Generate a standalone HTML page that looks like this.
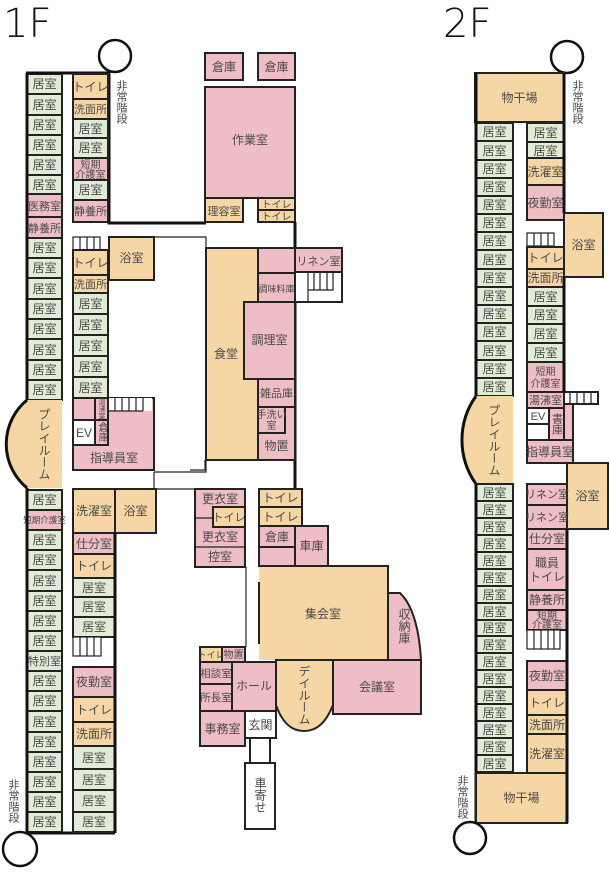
<!DOCTYPE html>
<html><head><meta charset="utf-8"><style>
html,body{margin:0;padding:0;background:#fff}
svg{display:block}
rect,path.r{stroke:#222;stroke-width:2}
.g{fill:#e2ebd5}.o{fill:#f5d6a4}.p{fill:#efbdc4}.w{fill:#fff}
text{font-family:"Liberation Sans","Noto Sans CJK JP",sans-serif;font-size:12px;fill:#4a4a4a;text-anchor:middle}
.s{font-size:10px}.xs{font-size:8.5px}
.v{writing-mode:vertical-rl}
.t{font-size:40px;fill:#111;text-anchor:start;font-family:"DejaVu Sans","Liberation Sans",sans-serif;font-weight:200}
line,.ln{stroke:#222;stroke-width:1.2;fill:none}
.th{stroke:#111;stroke-width:3;fill:none}
</style></head><body>
<svg width="610" height="876" viewBox="0 0 610 876" xmlns="http://www.w3.org/2000/svg">
<text class="t" x="3" y="37">1F</text>
<text class="t" x="443" y="37">2F</text>

<!-- ===== 1F left column ===== -->
<circle cx="115" cy="56" r="16" fill="#fff" stroke="#111" stroke-width="2.5"/>
<text class="v" x="121" y="102" style="font-size:11px">非常階段</text>
<rect class="g" x="27" y="74" width="35" height="20"/><text x="44.5" y="88">居室</text>
<rect class="g" x="27" y="94" width="35" height="21"/><text x="44.5" y="109">居室</text>
<rect class="g" x="27" y="115" width="35" height="20"/><text x="44.5" y="129">居室</text>
<rect class="g" x="27" y="135" width="35" height="20"/><text x="44.5" y="149">居室</text>
<rect class="g" x="27" y="155" width="35" height="20"/><text x="44.5" y="169">居室</text>
<rect class="g" x="27" y="175" width="35" height="19"/><text x="44.5" y="189">居室</text>
<rect class="p" x="27" y="194" width="35" height="23"/><text x="44.5" y="210" style="font-size:11px">医務室</text>
<rect class="p" x="27" y="217" width="35" height="21"/><text x="44.5" y="232" style="font-size:11px">静養所</text>
<rect class="g" x="27" y="238" width="35" height="20"/><text x="44.5" y="252">居室</text>
<rect class="g" x="27" y="258" width="35" height="20"/><text x="44.5" y="272">居室</text>
<rect class="g" x="27" y="278" width="35" height="21"/><text x="44.5" y="293">居室</text>
<rect class="g" x="27" y="299" width="35" height="20"/><text x="44.5" y="313">居室</text>
<rect class="g" x="27" y="319" width="35" height="20"/><text x="44.5" y="333">居室</text>
<rect class="g" x="27" y="339" width="35" height="21"/><text x="44.5" y="354">居室</text>
<rect class="g" x="27" y="360" width="35" height="20"/><text x="44.5" y="374">居室</text>
<rect class="g" x="27" y="380" width="35" height="20"/><text x="44.5" y="394">居室</text>
<path class="o" d="M27,400 A57,57 0 0 0 27,488 L62,488 L62,400 Z"/>
<path class="th" d="M27,400 A57,57 0 0 0 27,488"/>
<text class="v" x="44" y="444">プレイルーム</text>
<rect class="g" x="27" y="490" width="35" height="20"/><text x="44.5" y="504">居室</text>
<rect class="p" x="27" y="510" width="35" height="20"/><text class="xs" x="44.5" y="523">短期介護室</text>
<rect class="g" x="27" y="530" width="35" height="20"/><text x="44.5" y="544">居室</text>
<rect class="g" x="27" y="550" width="35" height="20"/><text x="44.5" y="564">居室</text>
<rect class="g" x="27" y="570" width="35" height="21"/><text x="44.5" y="585">居室</text>
<rect class="g" x="27" y="591" width="35" height="20"/><text x="44.5" y="605">居室</text>
<rect class="g" x="27" y="611" width="35" height="20"/><text x="44.5" y="625">居室</text>
<rect class="g" x="27" y="631" width="35" height="20"/><text x="44.5" y="645">居室</text>
<rect class="g" x="27" y="651" width="35" height="20"/><text x="44.5" y="665" style="font-size:11px">特別室</text>
<rect class="g" x="27" y="671" width="35" height="20"/><text x="44.5" y="685">居室</text>
<rect class="g" x="27" y="691" width="35" height="20"/><text x="44.5" y="705">居室</text>
<rect class="g" x="27" y="711" width="35" height="21"/><text x="44.5" y="726">居室</text>
<rect class="g" x="27" y="732" width="35" height="20"/><text x="44.5" y="746">居室</text>
<rect class="g" x="27" y="752" width="35" height="20"/><text x="44.5" y="766">居室</text>
<rect class="g" x="27" y="772" width="35" height="20"/><text x="44.5" y="786">居室</text>
<rect class="g" x="27" y="792" width="35" height="20"/><text x="44.5" y="806">居室</text>
<rect class="g" x="27" y="812" width="35" height="20"/><text x="44.5" y="826">居室</text>
<circle cx="20" cy="849" r="17" fill="#fff" stroke="#111" stroke-width="2.5"/>
<text class="v" x="13" y="801" style="font-size:11px">非常階段</text>
<path class="th" d="M27,73 V400 M27,488 V833 H115 M26,73 H109 V223 H206"/>

<!-- 1F inner top column -->
<rect class="o" x="73" y="74" width="35" height="25"/><text x="90.5" y="91">トイレ</text>
<rect class="o" x="73" y="99" width="35" height="20"/><text x="90.5" y="113" style="font-size:11px">洗面所</text>
<rect class="g" x="73" y="119" width="35" height="19"/><text x="90.5" y="133">居室</text>
<rect class="g" x="73" y="138" width="35" height="20"/><text x="90.5" y="152">居室</text>
<rect class="p" x="73" y="158" width="35" height="22"/><text class="s" x="90.5" y="168">短期</text><text class="s" x="90.5" y="178">介護室</text>
<rect class="g" x="73" y="180" width="35" height="20"/><text x="90.5" y="194">居室</text>
<rect class="p" x="73" y="200" width="35" height="22"/><text x="90.5" y="215" style="font-size:11px">静養所</text>

<!-- 1F middle -->
<path class="ln" d="M108,237 H206 V472 H154"/>
<rect class="w" x="73" y="237" width="27" height="13" style="stroke-width:1.2"/>
<line x1="80" y1="237" x2="80" y2="250"/><line x1="87" y1="237" x2="87" y2="250"/><line x1="94" y1="237" x2="94" y2="250"/>
<rect class="o" x="109" y="237" width="45" height="43"/><text x="131.5" y="262">浴室</text>
<rect class="o" x="73" y="250" width="35" height="25"/><text x="90.5" y="267">トイレ</text>
<rect class="o" x="73" y="275" width="35" height="18"/><text x="90.5" y="288" style="font-size:11px">洗面所</text>
<rect class="g" x="73" y="293" width="35" height="21"/><text x="90.5" y="308">居室</text>
<rect class="g" x="73" y="314" width="35" height="21"/><text x="90.5" y="329">居室</text>
<rect class="g" x="73" y="335" width="35" height="21"/><text x="90.5" y="350">居室</text>
<rect class="g" x="73" y="356" width="35" height="21"/><text x="90.5" y="371">居室</text>
<rect class="g" x="73" y="377" width="35" height="21"/><text x="90.5" y="392">居室</text>
<rect class="p" x="73" y="398" width="81" height="72"/>
<rect class="w" x="108" y="398" width="44" height="13" style="stroke:none"/>
<line x1="108" y1="411" x2="143" y2="411"/>
<line x1="115" y1="398" x2="115" y2="411"/><line x1="122" y1="398" x2="122" y2="411"/><line x1="129" y1="398" x2="129" y2="411"/><line x1="136" y1="398" x2="136" y2="411"/><line x1="143" y1="398" x2="143" y2="411"/>
<rect class="p" x="73" y="398" width="22" height="22"/>
<rect class="p" x="95" y="398" width="13" height="22"/><text class="v" x="101.5" y="409" style="font-size:7px">湯沸室</text>
<rect class="w" x="73" y="420" width="22" height="25"/><text x="84" y="437">EV</text>
<rect class="p" x="95" y="420" width="13" height="25"/><text class="v" x="101.5" y="432" style="font-size:10px">倉庫</text>
<text x="114" y="462">指導員室</text>

<!-- 1F center top -->
<rect class="p" x="205" y="53" width="38" height="27"/><text x="224" y="71">倉庫</text>
<rect class="p" x="258" y="53" width="37" height="27"/><text x="276.5" y="71">倉庫</text>
<rect class="p" x="205" y="87" width="90" height="111"/><text x="250" y="144">作業室</text>
<rect class="o" x="205" y="198" width="38" height="24"/><text x="224" y="215" style="font-size:11px">理容室</text>
<rect class="o" x="258" y="198" width="37" height="12"/><text x="276.5" y="208" style="font-size:10px">トイレ</text>
<rect class="o" x="258" y="210" width="37" height="12"/><text x="276.5" y="220" style="font-size:10px">トイレ</text>
<path class="th" d="M295,222 V248 M295,302 V489"/>
<rect class="o" x="206" y="248" width="52" height="212"/><text x="226" y="358">食堂</text>
<rect class="p" x="258" y="248" width="37" height="25"/>
<rect class="p" x="295" y="248" width="47" height="24"/><text x="318.5" y="265" style="font-size:11px">リネン室</text>
<rect class="w" x="295" y="272" width="47" height="30"/>
<path class="ln" d="M308,272 V302 M308,290 H333 V272 M314,272 V290 M320,272 V290 M327,272 V290"/>
<rect class="p" x="258" y="273" width="37" height="29"/><text x="276.5" y="292" style="font-size:9px">調味料庫</text>
<rect class="p" x="244" y="302" width="51" height="77"/><text x="269.5" y="344">調理室</text>
<rect class="p" x="258" y="379" width="37" height="28"/><text x="276.5" y="397" style="font-size:11px">雑品庫</text>
<rect class="p" x="258" y="407" width="37" height="53"/>
<rect class="p" x="258" y="407" width="27" height="26"/><text x="271.5" y="418" style="font-size:10px">手洗い</text><text x="271.5" y="429" style="font-size:10px">室</text>
<text x="276.5" y="450">物置</text>

<!-- 1F lower middle -->
<path class="ln" d="M154,472 V489 M156,489 H195 M190,470 H205 V460"/>
<rect class="o" x="73" y="489" width="42" height="44"/><text x="94" y="515">洗濯室</text>
<rect class="o" x="115" y="489" width="41" height="44"/><text x="135.5" y="515">浴室</text>
<rect class="p" x="73" y="533" width="42" height="21"/><text x="94" y="548">仕分室</text>
<rect class="o" x="73" y="554" width="42" height="24"/><text x="94" y="570">トイレ</text>
<rect class="g" x="73" y="578" width="42" height="19"/><text x="94" y="592">居室</text>
<rect class="g" x="73" y="597" width="42" height="20"/><text x="94" y="611">居室</text>
<rect class="g" x="73" y="617" width="42" height="20"/><text x="94" y="631">居室</text>
<rect class="w" x="73" y="637" width="28" height="19" style="stroke-width:1.2"/>
<line x1="80" y1="637" x2="80" y2="656"/><line x1="87" y1="637" x2="87" y2="656"/><line x1="94" y1="637" x2="94" y2="656"/>
<rect class="p" x="73" y="667" width="42" height="30"/><text x="94" y="686">夜勤室</text>
<rect class="o" x="73" y="697" width="42" height="25"/><text x="94" y="714">トイレ</text>
<rect class="o" x="73" y="722" width="42" height="24"/><text x="94" y="738">洗面所</text>
<rect class="g" x="73" y="746" width="42" height="23"/><text x="94" y="762">居室</text>
<rect class="g" x="73" y="769" width="42" height="21"/><text x="94" y="784">居室</text>
<rect class="g" x="73" y="790" width="42" height="22"/><text x="94" y="805">居室</text>
<rect class="g" x="73" y="812" width="42" height="20"/><text x="94" y="826">居室</text>
<path class="th" d="M115,533 V833"/>

<!-- 1F lower right -->
<rect class="p" x="195" y="489" width="50" height="78"/>
<line x1="195" y1="518" x2="213" y2="518"/><line x1="195" y1="547" x2="245" y2="547"/>
<text x="220" y="503">更衣室</text>
<rect class="o" x="213" y="507" width="32" height="20"/><text x="229" y="521" style="font-size:11px">トイレ</text>
<text x="220" y="541">更衣室</text>
<text x="220" y="561">控室</text>
<line x1="246" y1="567" x2="246" y2="647"/>
<rect class="o" x="259" y="489" width="43" height="18"/><text x="280.5" y="502">トイレ</text>
<rect class="o" x="259" y="507" width="43" height="19"/><text x="280.5" y="521">トイレ</text>
<rect class="p" x="259" y="526" width="36" height="21"/><text x="277" y="541">倉庫</text>
<rect class="p" x="259" y="547" width="36" height="19"/>
<rect class="p" x="295" y="526" width="33" height="40"/><text x="311.5" y="550">車庫</text>
<rect class="o" x="259" y="566" width="129" height="94" style="stroke:none"/>
<path class="ln" style="stroke-width:2" d="M259,566 H388 V660"/>
<line x1="259" y1="582" x2="259" y2="644" style="stroke-width:2"/>
<text x="323" y="618">集会室</text>
<path class="r p" d="M388,593 L400,593 Q418,610 421,660 L388,660 Z"/>
<text class="v" x="404" y="626">収納庫</text>
<rect class="p" x="333" y="660" width="88" height="54"/><text x="377" y="691">会議室</text>
<path class="r o" d="M276,660 H333 V705 C325,725 315,731 304,731 C293,731 283,725 276,705 Z"/>
<text class="v" x="304" y="695">デイルーム</text>
<rect class="p" x="232" y="662" width="44" height="49"/><text x="254" y="690">ホール</text>
<rect class="o" x="200" y="647" width="22" height="15"/><text x="211" y="658" style="font-size:9px">トイレ</text>
<rect class="p" x="222" y="647" width="23" height="15"/><text x="233.5" y="658" style="font-size:10px">物置</text>
<rect class="p" x="200" y="662" width="32" height="22"/><text x="216" y="677" style="font-size:10.5px">相談室</text>
<rect class="p" x="200" y="684" width="32" height="27"/><text x="216" y="701" style="font-size:10.5px">所長室</text>
<rect class="p" x="200" y="711" width="45" height="35"/><text x="222.5" y="733">事務室</text>
<rect class="w" x="245" y="711" width="31" height="27"/><text x="260.5" y="729">玄関</text>
<path class="ln" style="stroke-width:2" d="M250,738 V763 M270,738 V763"/>
<rect class="w" x="245" y="763" width="30" height="66"/>
<text class="v" x="260" y="795">車寄せ</text>

<!-- ===== 2F ===== -->
<circle cx="567" cy="57" r="16" fill="#fff" stroke="#111" stroke-width="2.5"/>
<text class="v" x="577" y="102" style="font-size:11px">非常階段</text>
<rect class="o" x="475" y="73" width="89" height="49"/><text x="519.5" y="102">物干場</text>
<rect class="g" x="476" y="123" width="37" height="18"/><text x="494.5" y="136">居室</text>
<rect class="g" x="476" y="141" width="37" height="19"/><text x="494.5" y="155">居室</text>
<rect class="g" x="476" y="160" width="37" height="18"/><text x="494.5" y="173">居室</text>
<rect class="g" x="476" y="178" width="37" height="18"/><text x="494.5" y="191">居室</text>
<rect class="g" x="476" y="196" width="37" height="18"/><text x="494.5" y="209">居室</text>
<rect class="g" x="476" y="214" width="37" height="18"/><text x="494.5" y="227">居室</text>
<rect class="g" x="476" y="232" width="37" height="18"/><text x="494.5" y="245">居室</text>
<rect class="g" x="476" y="250" width="37" height="19"/><text x="494.5" y="264">居室</text>
<rect class="g" x="476" y="269" width="37" height="18"/><text x="494.5" y="282">居室</text>
<rect class="g" x="476" y="287" width="37" height="18"/><text x="494.5" y="300">居室</text>
<rect class="g" x="476" y="305" width="37" height="18"/><text x="494.5" y="318">居室</text>
<rect class="g" x="476" y="323" width="37" height="18"/><text x="494.5" y="336">居室</text>
<rect class="g" x="476" y="341" width="37" height="19"/><text x="494.5" y="355">居室</text>
<rect class="g" x="476" y="360" width="37" height="18"/><text x="494.5" y="373">居室</text>
<rect class="g" x="476" y="378" width="37" height="18"/><text x="494.5" y="391">居室</text>
<path class="o" d="M476,396 A76,76 0 0 0 476,484 L513,484 L513,396 Z"/>
<path class="th" d="M476,396 A76,76 0 0 0 476,484"/>
<text class="v" x="494" y="440">プレイルーム</text>
<rect class="g" x="476" y="484" width="37" height="17"/><text x="494.5" y="497">居室</text>
<rect class="g" x="476" y="501" width="37" height="17"/><text x="494.5" y="514">居室</text>
<rect class="g" x="476" y="518" width="37" height="17"/><text x="494.5" y="531">居室</text>
<rect class="g" x="476" y="535" width="37" height="17"/><text x="494.5" y="548">居室</text>
<rect class="g" x="476" y="552" width="37" height="17"/><text x="494.5" y="565">居室</text>
<rect class="g" x="476" y="569" width="37" height="17"/><text x="494.5" y="582">居室</text>
<rect class="g" x="476" y="586" width="37" height="17"/><text x="494.5" y="599">居室</text>
<rect class="g" x="476" y="603" width="37" height="17"/><text x="494.5" y="616">居室</text>
<rect class="g" x="476" y="620" width="37" height="16"/><text x="494.5" y="632">居室</text>
<rect class="g" x="476" y="636" width="37" height="17"/><text x="494.5" y="649">居室</text>
<rect class="g" x="476" y="653" width="37" height="17"/><text x="494.5" y="666">居室</text>
<rect class="g" x="476" y="670" width="37" height="17"/><text x="494.5" y="683">居室</text>
<rect class="g" x="476" y="687" width="37" height="17"/><text x="494.5" y="700">居室</text>
<rect class="g" x="476" y="704" width="37" height="17"/><text x="494.5" y="717">居室</text>
<rect class="g" x="476" y="721" width="37" height="17"/><text x="494.5" y="734">居室</text>
<rect class="g" x="476" y="738" width="37" height="17"/><text x="494.5" y="751">居室</text>
<rect class="g" x="476" y="755" width="37" height="17"/><text x="494.5" y="768">居室</text>
<path class="th" d="M476,73 V396 M476,484 V823"/>

<rect class="g" x="527" y="123" width="37" height="19"/><text x="545.5" y="137">居室</text>
<rect class="g" x="527" y="142" width="37" height="16"/><text x="545.5" y="155">居室</text>
<rect class="o" x="527" y="158" width="37" height="27"/><text x="545.5" y="176">洗濯室</text>
<rect class="p" x="527" y="185" width="37" height="35"/><text x="545.5" y="207">夜勤室</text>
<rect class="w" x="527" y="233" width="27" height="13" style="stroke-width:1.2"/>
<line x1="534" y1="233" x2="534" y2="246"/><line x1="541" y1="233" x2="541" y2="246"/><line x1="548" y1="233" x2="548" y2="246"/>
<rect class="o" x="564" y="213" width="39" height="64"/><text x="583.5" y="249">浴室</text>
<rect class="o" x="527" y="247" width="37" height="22"/><text x="545.5" y="262">トイレ</text>
<rect class="o" x="527" y="269" width="37" height="18"/><text x="545.5" y="282">洗面所</text>
<rect class="g" x="527" y="287" width="37" height="19"/><text x="545.5" y="301">居室</text>
<rect class="g" x="527" y="306" width="37" height="18"/><text x="545.5" y="319">居室</text>
<rect class="g" x="527" y="324" width="37" height="19"/><text x="545.5" y="338">居室</text>
<rect class="g" x="527" y="343" width="37" height="19"/><text x="545.5" y="357">居室</text>
<rect class="p" x="527" y="362" width="37" height="30"/><text class="s" x="545.5" y="375">短期</text><text class="s" x="545.5" y="387">介護室</text>
<rect class="p" x="527" y="392" width="37" height="16"/><text x="545.5" y="404" style="font-size:11px">湯沸室</text>
<rect class="p" x="564" y="392" width="9" height="48"/>
<rect class="w" x="564" y="392" width="34" height="12"/>
<line x1="570" y1="392" x2="570" y2="404"/><line x1="577" y1="392" x2="577" y2="404"/><line x1="584" y1="392" x2="584" y2="404"/><line x1="591" y1="392" x2="591" y2="404"/>
<rect class="w" x="527" y="408" width="22" height="16"/><text x="538" y="420" style="font-size:11px">EV</text>
<rect class="w" x="527" y="424" width="22" height="16"/>
<rect class="p" x="549" y="408" width="15" height="32"/><text class="v" x="556.5" y="424" style="font-size:11px">書庫</text>
<rect class="p" x="527" y="440" width="46" height="23"/><text x="550" y="456">指導員室</text>
<rect class="o" x="567" y="463" width="41" height="66"/><text x="587.5" y="500">浴室</text>
<rect class="p" x="527" y="484" width="40" height="21"/><text x="547" y="498" style="font-size:11px">リネン室</text>
<rect class="p" x="527" y="505" width="40" height="24"/><text x="547" y="521" style="font-size:11px">リネン室</text>
<rect class="p" x="527" y="529" width="40" height="20"/><text x="547" y="543">仕分室</text>
<rect class="p" x="527" y="549" width="40" height="41"/><text x="547" y="567">職員</text><text x="547" y="581">トイレ</text>
<rect class="p" x="527" y="590" width="40" height="20"/><text x="547" y="604">静養所</text>
<rect class="p" x="527" y="610" width="40" height="20"/><text class="s" x="547" y="619">短期</text><text class="s" x="547" y="628">介護室</text>
<rect class="w" x="527" y="630" width="33" height="19" style="stroke-width:1.2"/>
<line x1="534" y1="630" x2="534" y2="649"/><line x1="541" y1="630" x2="541" y2="649"/><line x1="548" y1="630" x2="548" y2="649"/><line x1="554" y1="630" x2="554" y2="649"/>
<rect class="p" x="527" y="661" width="40" height="29"/><text x="547" y="680">夜勤室</text>
<rect class="o" x="527" y="690" width="40" height="25"/><text x="547" y="707">トイレ</text>
<rect class="o" x="527" y="715" width="40" height="19"/><text x="547" y="729">洗面所</text>
<rect class="o" x="527" y="734" width="40" height="39"/><text x="547" y="758">洗濯室</text>
<rect class="o" x="476" y="773" width="91" height="50"/><text x="521.5" y="802">物干場</text>
<path class="th" d="M564,73 V213 M564,277 V392 M567,529 V823"/>
<circle cx="470" cy="838" r="16" fill="#fff" stroke="#111" stroke-width="2.5"/>
<text class="v" x="462" y="797" style="font-size:11px">非常階段</text>
</svg>
</body></html>
